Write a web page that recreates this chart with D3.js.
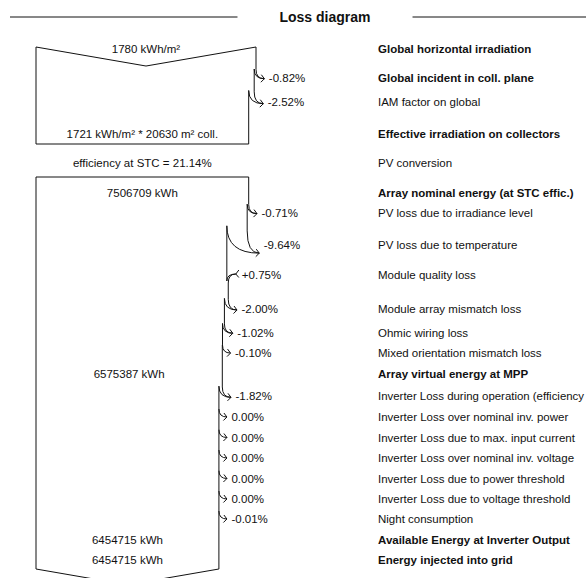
<!DOCTYPE html>
<html>
<head>
<meta charset="utf-8">
<script src="https://cdn.jsdelivr.net/npm/d3@7"></script>
<style>
  body { margin: 0; background: #fff; }
  svg { display: block; font-family: "Liberation Sans", Arial, sans-serif; }
  .edge { fill: none; stroke: #111; stroke-width: 1; }
  .lbl { font-size: 11.5px; fill: #111; }
  .bold { font-weight: bold; }
</style>
</head>
<body>
<div id="chart"></div>
<script>
// Rows of the loss diagram (right column)
const rowLabels = [
  "Global horizontal irradiation",
  "Global incident in coll. plane",
  "IAM factor on global",
  "Effective irradiation on collectors",
  "PV conversion",
  "Array nominal energy (at STC effic.)",
  "PV loss due to irradiance level",
  "PV loss due to temperature",
  "Module quality loss",
  "Module array mismatch loss",
  "Ohmic wiring loss",
  "Mixed orientation mismatch loss",
  "Array virtual energy at MPP",
  "Inverter Loss during operation (efficiency",
  "Inverter Loss over nominal inv. power",
  "Inverter Loss due to max. input current",
  "Inverter Loss over nominal inv. voltage",
  "Inverter Loss due to power threshold",
  "Inverter Loss due to voltage threshold",
  "Night consumption",
  "Available Energy at Inverter Output",
  "Energy injected into grid"
];
// "total" rows are drawn bold
const rowTypes = ["total", "total", "loss", "total", "note", "total", "loss", "loss", "loss",
  "loss", "loss", "loss", "total", "loss", "loss", "loss", "loss", "loss", "loss", "loss",
  "total", "total"];
// percentage change at each row (null = none)
const rowPcts = [null, -0.82, -2.52, null, null, null, -0.71, -9.64, 0.75, -2.00, -1.02, -0.10,
  null, -1.82, 0.00, 0.00, 0.00, 0.00, 0.00, -0.01, null, null];

// values written inside the flow
const irradiation = [1780, 1721];     // kWh/m²
const collectorArea = 20630;          // m²
const stcEfficiency = 21.14;          // %
const energies = [7506709, 6575387, 6454715, 6454715]; // kWh

// layout
const width = 586, height = 578;
const left = 36;
const rowY = [49, 78, 101.5, 134, 162.5, 192.5, 213, 245, 275, 308.5, 332.5, 353,
  373.5, 396, 417, 437.5, 458, 478.5, 499, 519, 539.5, 560];
const labelX = 378;

const svg = d3.select("#chart").append("svg")
  .attr("width", width)
  .attr("height", height);

// title with rules either side
const title = svg.append("text")
  .attr("x", 325).attr("y", 17).attr("dy", "0.35em")
  .attr("text-anchor", "middle")
  .style("font-size", "14px").style("font-weight", "bold").style("fill", "#111")
  .text("Loss diagram");
const tw = title.node().getComputedTextLength();
svg.append("line").attr("class", "edge")
  .attr("x1", 10).attr("x2", 325 - tw / 2 - 42).attr("y1", 17).attr("y2", 17);
svg.append("line").attr("class", "edge")
  .attr("x1", 325 + tw / 2 + 42).attr("x2", width).attr("y1", 17).attr("y2", 17);

// width scales
const irrScale = d3.scaleLinear().domain([0, irradiation[0]]).range([0, 220]);

// percent text with a plain hyphen, like the original
const pctText = p => (p > 0 ? "+" : "") + p.toFixed(2) + "%";

const g = svg.append("g");

// draws the right edge of a flow band with its loss / gain arrows
function drawEdge(rows, x, topY, botY, xAt) {
  let segStart = topY;
  rows.forEach(r => {
    const p = rowPcts[r];
    const yc = rowY[r];
    if (p == null) { xAt[r] = x; return; }
    const curW = x - left;
    const dw = Math.abs(curW * p / 100);
    if (p <= 0) {
      const tx = x + 8 + 0.2 * dw, ty = yc + 0.4 * dw;
      const oy = ty - 8 - 0.7 * dw;
      const iy = oy - 0.25 * dw;
      g.append("path").attr("class", "edge").attr("d", `M${x},${segStart}L${x},${oy}`);
      g.append("path").attr("class", "edge").attr("d", `M${x},${oy}Q${x},${ty} ${tx},${ty}`);
      if (dw > 0.6) {
        g.append("path").attr("class", "edge")
          .attr("d", `M${x - dw},${iy}Q${x - dw},${ty} ${tx},${ty}`);
      }
      g.append("path").attr("class", "edge")
        .attr("d", `M${tx - 3},${ty - 4}L${tx},${ty}L${tx - 3.5},${ty + 3.5}`);
      g.append("text").attr("class", "lbl")
        .attr("x", tx + 4.5).attr("y", yc).attr("dy", "0.35em")
        .text(pctText(p));
      x = x - dw;
      segStart = iy;
    } else {
      const sx = x + 9, sy = yc - 1;
      g.append("path").attr("class", "edge").attr("d", `M${x},${segStart}L${x},${sy + 7}`);
      g.append("path").attr("class", "edge").attr("d", `M${sx},${sy}Q${x},${sy} ${x},${sy + 7}`);
      g.append("path").attr("class", "edge")
        .attr("d", `M${sx},${sy}Q${x + dw},${sy} ${x + dw},${sy + 9}`);
      g.append("path").attr("class", "edge")
        .attr("d", `M${sx + 3},${sy - 4}L${sx},${sy}L${sx + 3},${sy + 3.5}`);
      g.append("text").attr("class", "lbl")
        .attr("x", sx + 6).attr("y", yc).attr("dy", "0.35em")
        .text(pctText(p));
      x = x + dw;
      segStart = sy + 9;
    }
    xAt[r] = x;
  });
  g.append("path").attr("class", "edge").attr("d", `M${x},${segStart}L${x},${botY}`);
  return x;
}

const xAt = [];
const slope = 0.173;

// ---- irradiation band ----
const box1Top = 47, box1Bot = 144;
const x1 = left + irrScale(irradiation[0]);
const mid1 = (left + x1) / 2;
g.append("path").attr("class", "edge")
  .attr("d", `M${left},${box1Bot}L${left},${box1Top}L${mid1},${box1Top + (mid1 - left) * slope}L${x1},${box1Top}`);
const x1End = drawEdge([0, 1, 2, 3], x1, box1Top, box1Bot, xAt);
g.append("path").attr("class", "edge").attr("d", `M${left},${box1Bot}L${x1End},${box1Bot}`);

// ---- energy band ----
const energyScale = d3.scaleLinear().domain([0, energies[0]]).range([0, x1End - left]);
const box2Top = 177, box2Bot = 569;
const x2 = left + energyScale(energies[0]);
g.append("path").attr("class", "edge")
  .attr("d", `M${x2},${box2Top}L${left},${box2Top}L${left},${box2Bot}`);
const energyRows = d3.range(5, 22);
const x2End = drawEdge(energyRows, x2, box2Top, box2Bot, xAt);
const mid2 = (left + x2End) / 2;
g.append("path").attr("class", "edge")
  .attr("d", `M${left},${box2Bot}L${mid2},${box2Bot + (mid2 - left) * slope}L${x2End},${box2Bot}`);

// ---- values inside the flow ----
const fmt = d3.format("d");
const flowTexts = [
  { row: 0, cx: (left + x1) / 2, t: `${irradiation[0]} kWh/m²` },
  { row: 3, cx: (left + x1End) / 2, t: `${irradiation[1]} kWh/m² * ${collectorArea} m² coll.` },
  { row: 4, cx: (left + x1End) / 2, t: `efficiency at STC = ${stcEfficiency.toFixed(2)}%` },
  { row: 5, cx: (left + x2) / 2, t: `${fmt(energies[0])} kWh` },
  { row: 12, cx: (left + xAt[12]) / 2, t: `${fmt(energies[1])} kWh` },
  { row: 20, cx: (left + x2End) / 2, t: `${fmt(energies[2])} kWh` },
  { row: 21, cx: (left + x2End) / 2, t: `${fmt(energies[3])} kWh` }
];
g.selectAll(".flow").data(flowTexts).join("text")
  .attr("class", "lbl flow")
  .attr("x", d => d.cx).attr("y", d => rowY[d.row]).attr("dy", "0.35em")
  .attr("text-anchor", "middle")
  .text(d => d.t);

// ---- row labels ----
const maxLabelW = width - labelX - 2;
g.selectAll(".row").data(rowLabels).join("text")
  .attr("class", (d, i) => "lbl row" + (rowTypes[i] === "total" ? " bold" : ""))
  .attr("x", labelX).attr("y", (d, i) => rowY[i]).attr("dy", "0.35em")
  .text(d => d)
  .each(function () {
    // squeeze a label that would run past the right edge
    const len = this.getComputedTextLength();
    if (len > maxLabelW) {
      d3.select(this).attr("textLength", maxLabelW).attr("lengthAdjust", "spacingAndGlyphs");
    }
  });
</script>
</body>
</html>
